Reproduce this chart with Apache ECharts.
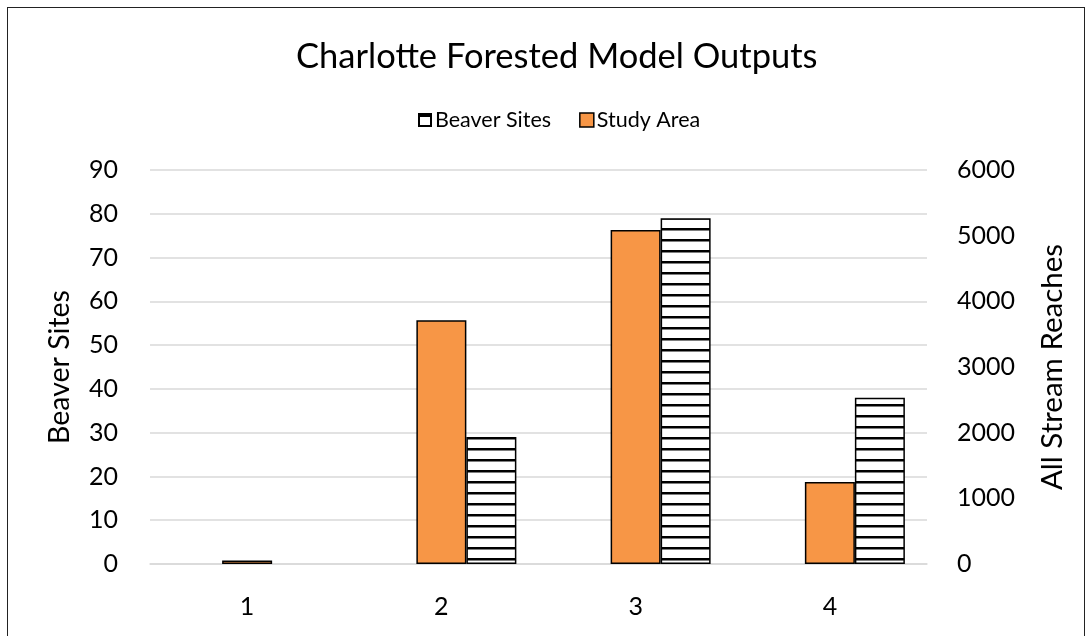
<!DOCTYPE html>
<html>
<head>
<meta charset="utf-8">
<script src="https://cdn.jsdelivr.net/npm/echarts@6/dist/echarts.min.js"></script>
<style>
html,body{margin:0;padding:0;background:#fff;}
#frame{position:absolute;left:7px;top:7px;width:1078px;height:640px;border:1.5px solid #222;box-sizing:border-box;}
#chart{position:absolute;left:0;top:0;width:1092px;height:636px;}
</style>
</head>
<body>
<div id="frame"></div>
<div id="chart"></div>
<script>
const categories = ['1', '2', '3', '4'];
const beaverSites = [0, 29, 79, 38];            // left axis (Beaver Sites)
const studyArea = [55, 3712, 5085, 1250];       // right axis (All Stream Reaches)
const spacer = [null, null, null, null];        // empty slot (keeps Study Area centred)
const leftTicks = { min: 0, max: 90, interval: 10 };
const rightTicks = { min: 0, max: 6000, interval: 1000 };

const FONT = 'Lato';

// horizontal-line hatch pattern
const pat = document.createElement('canvas');
pat.width = 8; pat.height = 11;
const pc = pat.getContext('2d');
pc.fillStyle = '#ffffff'; pc.fillRect(0, 0, 8, 11);
pc.fillStyle = '#000000'; pc.fillRect(0, 8, 8, 2.5);

// legend icon for the hatched series (white box, heavy top edge)
const ic = document.createElement('canvas');
ic.width = 14; ic.height = 14;
const icx = ic.getContext('2d');
icx.fillStyle = '#000'; icx.fillRect(0, 0, 14, 14);
icx.fillStyle = '#fff'; icx.fillRect(2, 4, 10, 8);

const chart = echarts.init(document.getElementById('chart'), null, { renderer: 'canvas' });
chart.setOption({
  backgroundColor: 'transparent',
  animation: false,
  title: {
    text: 'Charlotte Forested Model Outputs',
    left: 291, top: 34,
    textStyle: { fontFamily: FONT, fontSize: 34.5, fontWeight: 'normal', color: '#000' }
  },
  legend: {
    top: 104, left: 413,
    itemWidth: 14, itemHeight: 14, itemGap: 28, itemStyle: { borderWidth: 0 },
    textStyle: { fontFamily: FONT, fontSize: 21.5, color: '#000', padding: [0, 0, 0, -2] },
    data: [
      { name: 'Beaver Sites', icon: 'image://' + ic.toDataURL() },
      { name: 'Study Area', icon: 'rect', itemStyle: { color: '#F79646', borderColor: '#000', borderWidth: 1.5 } }
    ]
  },
  grid: { left: 150, right: 165, top: 170, bottom: 72 },
  xAxis: {
    type: 'category', data: categories,
    axisTick: { show: false },
    axisLine: { lineStyle: { color: '#d9d9d9', width: 1.5 } },
    axisLabel: { fontFamily: FONT, fontSize: 25, color: '#000', margin: 30 }
  },
  yAxis: [
    {
      type: 'value', min: leftTicks.min, max: leftTicks.max, interval: leftTicks.interval,
      name: 'Beaver Sites', nameLocation: 'middle', nameGap: 76, nameRotate: 90,
      nameTextStyle: { fontFamily: FONT, fontSize: 28.5, color: '#000' },
      axisLine: { show: false }, axisTick: { show: false },
      axisLabel: { fontFamily: FONT, fontSize: 25, color: '#000', margin: 32 },
      splitLine: { lineStyle: { color: '#d9d9d9', width: 1.5 } }
    },
    {
      type: 'value', min: rightTicks.min, max: rightTicks.max, interval: rightTicks.interval,
      name: 'All Stream Reaches', nameLocation: 'middle', nameGap: 110, nameRotate: 90,
      nameTextStyle: { fontFamily: FONT, fontSize: 29.5, color: '#000' },
      axisLine: { show: false }, axisTick: { show: false },
      axisLabel: { fontFamily: FONT, fontSize: 25, color: '#000', margin: 30, formatter: v => String(v) },
      splitLine: { show: false }
    }
  ],
  series: [
    { name: 'spacer', type: 'bar', yAxisIndex: 0, data: spacer, barWidth: 50, barGap: '0%', silent: true },
    {
      name: 'Study Area', type: 'bar', yAxisIndex: 1, data: studyArea, barWidth: 50, barGap: '0%',
      itemStyle: { color: '#F79646', borderColor: '#000', borderWidth: 1.5 }
    },
    {
      name: 'Beaver Sites', type: 'bar', yAxisIndex: 0, barWidth: 50, barGap: '0%',
      data: beaverSites.map(v => v === 0 ? { value: v, itemStyle: { borderWidth: 0 } } : v),
      itemStyle: { color: { image: pat, repeat: 'repeat' }, borderColor: '#000', borderWidth: 1.5 }
    }
  ]
});
</script>
</body>
</html>
